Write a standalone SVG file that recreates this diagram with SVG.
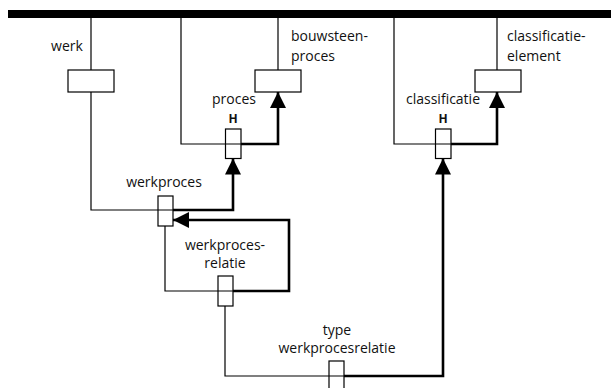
<svg xmlns="http://www.w3.org/2000/svg" width="614" height="388" viewBox="0 0 614 388">
<style>
.box{fill:#fff;stroke:#000;stroke-width:1.2}
.thin{fill:none;stroke:#000;stroke-width:1.2}
.thick{fill:none;stroke:#000;stroke-width:2.6}
text{font-family:"Open Sans","Liberation Sans",sans-serif;font-size:14px;fill:#111}
.h{font-weight:bold;font-size:12px}
</style>
<defs>
<marker id="arr" markerUnits="userSpaceOnUse" markerWidth="17" markerHeight="16" viewBox="0 0 16 16" refX="16" refY="8" orient="auto">
<path d="M0,0 L16,8 L0,16 z" fill="#000"/>
</marker>
</defs>
<rect x="8" y="10" width="603" height="8" fill="#000"/>
<g id="werk">
<rect class="box" x="68" y="70" width="46" height="22"/>
<text x="67" y="51" text-anchor="middle">werk</text>
</g>
<g id="bouwsteenproces">
<rect class="box" x="255" y="70" width="46" height="22"/>
<text x="291" y="41">bouwsteen-</text>
<text x="291" y="61">proces</text>
</g>
<g id="proces">
<rect class="box" x="225.5" y="129" width="15.5" height="29.5"/>
<text x="234" y="104" text-anchor="middle">proces</text>
<text class="h" x="233" y="123" text-anchor="middle">H</text>
</g>
<g id="classificatie-element">
<rect class="box" x="475" y="70" width="46" height="22"/>
<text x="507" y="41">classificatie-</text>
<text x="507" y="61">element</text>
</g>
<g id="classificatie">
<rect class="box" x="435.5" y="129" width="15.5" height="29.5"/>
<text x="443" y="104" text-anchor="middle">classificatie</text>
<text class="h" x="443" y="123" text-anchor="middle">H</text>
</g>
<g id="werkproces">
<rect class="box" x="158" y="196" width="15" height="30"/>
<text x="164" y="187" text-anchor="middle">werkproces</text>
</g>
<g id="werkprocesrelatie">
<rect class="box" x="218" y="276" width="15" height="30"/>
<text x="225" y="250" text-anchor="middle">werkproces-</text>
<text x="225" y="268" text-anchor="middle">relatie</text>
</g>
<g id="type-werkprocesrelatie">
<rect class="box" x="329" y="361" width="15" height="32"/>
<text x="337" y="335" text-anchor="middle">type</text>
<text x="337" y="353" text-anchor="middle">werkprocesrelatie</text>
</g>
<g id="connectors">
<path class="thin" d="M91,18 V70"/>
<path class="thin" d="M91,92 V210 H173"/>
<path class="thin" d="M181,18 V144 H241"/>
<path class="thin" d="M278,18 V70"/>
<path class="thick" d="M241,144 H278 V92" marker-end="url(#arr)"/>
<path class="thick" d="M173,210 H233 V158.5" marker-end="url(#arr)"/>
<path class="thin" d="M394,18 V144 H451"/>
<path class="thin" d="M497,18 V70"/>
<path class="thick" d="M451,144 H497 V92" marker-end="url(#arr)"/>
<path class="thin" d="M165,226 V291 H233"/>
<path class="thick" d="M233,291 H289 V220 H173" marker-end="url(#arr)"/>
<path class="thin" d="M225,306 V376 H344"/>
<path class="thick" d="M344,376 H443 V158.5" marker-end="url(#arr)"/>
</g>
</svg>
